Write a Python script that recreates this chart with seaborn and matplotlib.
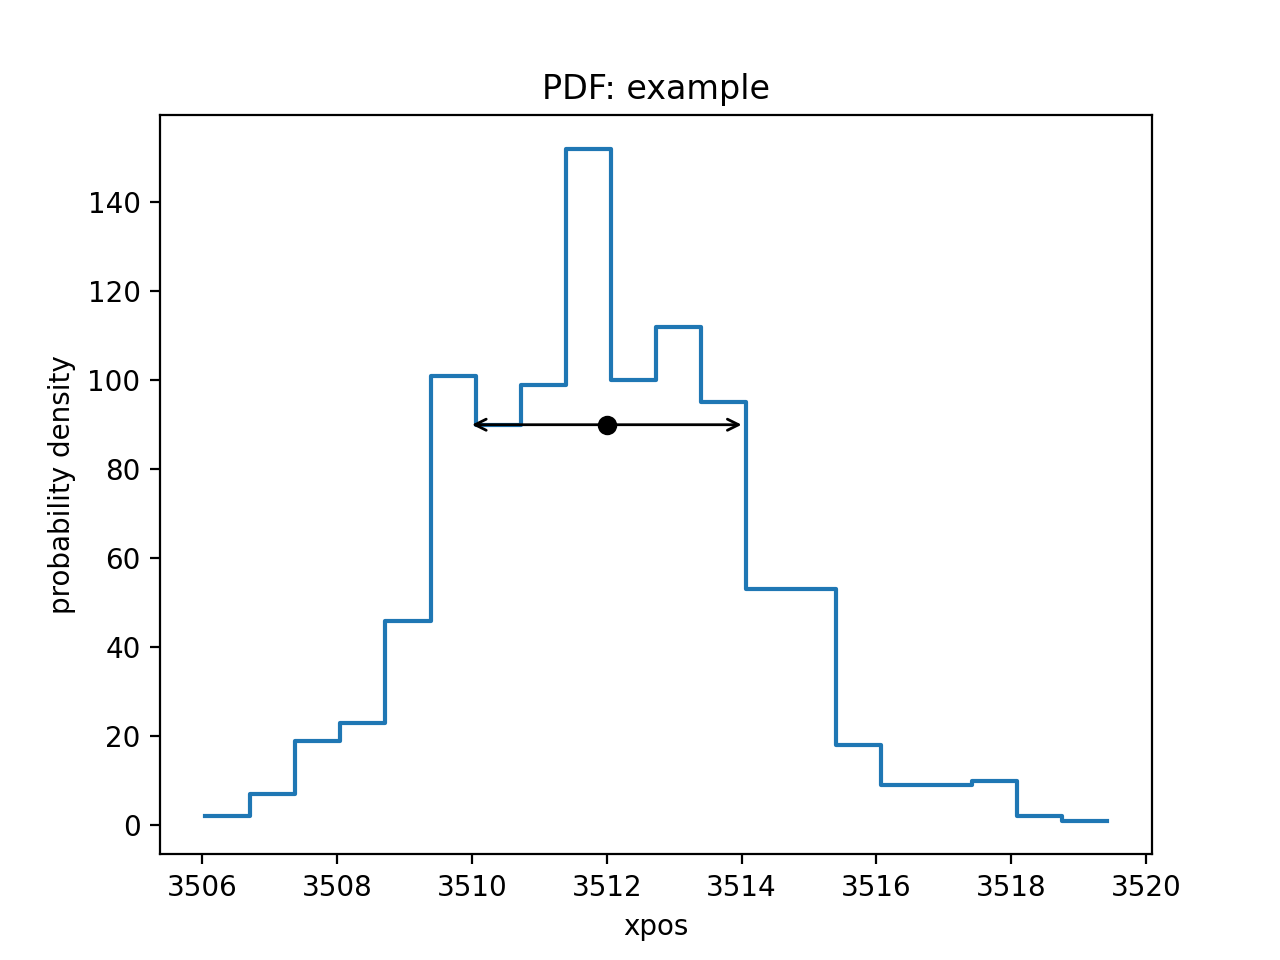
import numpy as np
import pandas as pd
import matplotlib
matplotlib.use("Agg")
import matplotlib.pyplot as plt
import seaborn as sns

# histogram of xpos (20 bins)
bin_lo, bin_hi, n_bins = 3506.04, 3519.42, 20
heights = [2, 7, 19, 23, 46, 101, 90, 99, 152, 100,
           112, 95, 53, 53, 18, 9, 9, 10, 2, 1]
# summary: centre and interval
centre = 3512.0
interval = (3510.0, 3514.0)
level = 90

edges = np.linspace(bin_lo, bin_hi, n_bins + 1)
df = pd.DataFrame({"xpos": (edges[:-1] + edges[1:]) / 2, "w": heights})

fig, ax = plt.subplots(figsize=(6.4, 4.8), dpi=200)
sns.histplot(data=df, x="xpos", weights="w", bins=n_bins,
             binrange=(bin_lo, bin_hi), element="step",
             fill=False, color="C0", linewidth=1.5, ax=ax)
# plain matplotlib margins, no sticky zero baseline
for art in ax.get_children():
    if hasattr(art, "sticky_edges"):
        art.sticky_edges.y.clear()
ax.annotate("", xy=(interval[0], level), xytext=(interval[1], level),
            arrowprops=dict(arrowstyle="<->", color="black", lw=1,
                            shrinkA=0, shrinkB=0))
ax.plot([centre], [level], "o", color="black")
ax.relim()
ax.autoscale_view()
ax.set(xlabel="xpos", ylabel="probability density", title="PDF: example")
fig.savefig("out.png")
